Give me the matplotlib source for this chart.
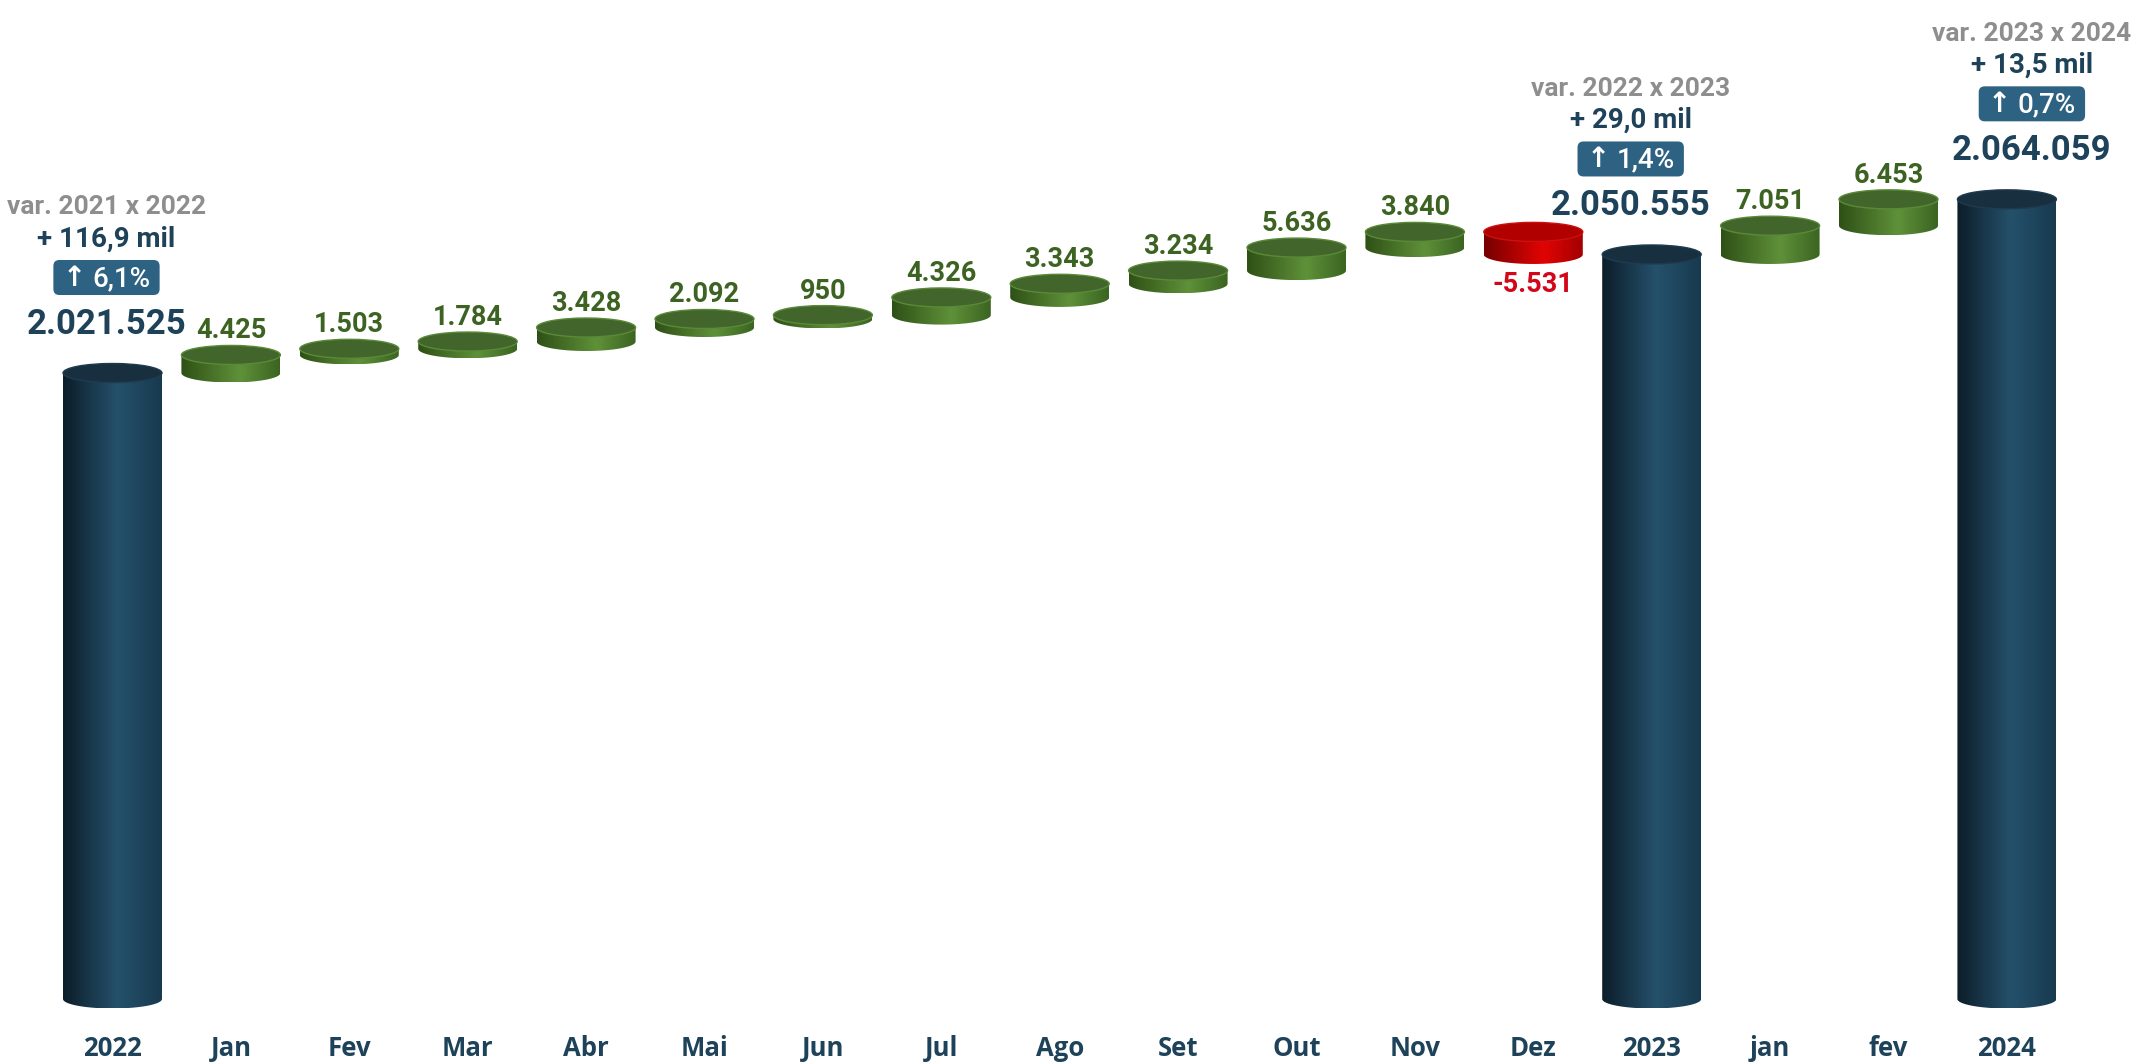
import numpy as np
import matplotlib
matplotlib.use("Agg")
import matplotlib.pyplot as plt
from matplotlib.path import Path
from matplotlib.patches import PathPatch, Ellipse, FancyBboxPatch
from matplotlib.colors import LinearSegmentedColormap
from matplotlib.transforms import IdentityTransform

# ---------------- data ----------------
categories = ["2022", "Jan", "Fev", "Mar", "Abr", "Mai", "Jun", "Jul", "Ago",
              "Set", "Out", "Nov", "Dez", "2023", "jan", "fev", "2024"]
total_labels = ["2022", "2023", "2024"]
total_values = [2021525, 2050555, 2064059]
months_2023 = [4425, 1503, 1784, 3428, 2092, 950, 4326, 3343, 3234, 5636, 3840, -5531]
months_2024 = [7051, 6453]
var_labels = ["var. 2021 x 2022", "var. 2022 x 2023", "var. 2023 x 2024"]
var_abs = ["+ 116,9 mil", "+ 29,0 mil", "+ 13,5 mil"]
var_pct = ["6,1%", "1,4%", "0,7%"]

# ---------------- style / layout ----------------
W, H = 2133, 1062
PX_PER_UNIT = 0.004083          # vertical pixels per unit
REF_VALUE, REF_PX = 2021525, 373.0  # value whose level sits at REF_PX from top
BASE_PX = 999                    # pixel row of bar bottoms
X0_PX, DX_PX = 112.5, 118.4      # first category centre, spacing
BAR_W = 0.836
ELL_PX = 19

def px_to_val(py):
    return REF_VALUE + (REF_PX - py) / PX_PER_UNIT

ylim = (px_to_val(H), px_to_val(0))
xlim = (-X0_PX / DX_PX, (W - X0_PX) / DX_PX)
base_val = px_to_val(BASE_PX)
ell_h = ELL_PX / PX_PER_UNIT
PT = 72 / 100.0  # points per pixel

NAVY = "#1d4259"
GREEN_TXT = "#3d6322"
RED_TXT = "#d2071a"
GRAY = "#8e8e8e"
BOX = "#2d6282"
NUMF = ["Roboto", "DejaVu Sans"]
CATF = ["Open Sans", "DejaVu Sans"]

navy_stops = [(0.0, "#0c1d29"), (0.55, "#25516b"), (1.0, "#173a4f")]
green_stops = [(0.0, "#2e5016"), (0.6, "#5f9139"), (1.0, "#3a6421")]
red_stops = [(0.0, "#760000"), (0.6, "#e20404"), (1.0, "#a30000")]

fig = plt.figure(figsize=(W / 100, H / 100), dpi=100)
ax = fig.add_axes([0, 0, 1, 1])
ax.axis("off")
ax.set_xlim(*xlim)
ax.set_ylim(*ylim)


def gradient(stops):
    cmap = LinearSegmentedColormap.from_list("g", stops)
    return cmap(np.linspace(0, 1, 256))[np.newaxis, :, :]


def cylinder(xc, y_a, y_b, stops, top_color, rim_color, z):
    lo, hi = min(y_a, y_b), max(y_a, y_b)
    w = BAR_W
    t = np.linspace(np.pi, 2 * np.pi, 80)
    xs = xc + w / 2 * np.cos(t)
    ys = lo + ell_h / 2 * np.sin(t)
    verts = list(zip(xs, ys)) + [(xc + w / 2, hi), (xc - w / 2, hi), (xs[0], ys[0])]
    codes = [Path.MOVETO] + [Path.LINETO] * (len(verts) - 2) + [Path.CLOSEPOLY]
    clip = PathPatch(Path(verts, codes), facecolor="none", edgecolor="none",
                     transform=ax.transData)
    ax.add_patch(clip)
    im = ax.imshow(gradient(stops), extent=[xc - w / 2, xc + w / 2, lo - ell_h / 2, hi],
                   aspect="auto", interpolation="bilinear", zorder=z)
    im.set_clip_path(clip)
    ax.add_patch(Ellipse((xc, hi), w, ell_h, facecolor=top_color, edgecolor=rim_color,
                         linewidth=1.0, zorder=z + 0.1))


def fmt(v):
    s = f"{abs(v):,}".replace(",", ".")
    return ("-" if v < 0 else "") + s


# ---------------- draw ----------------
x_of = {c: i for i, c in enumerate(categories)}
block_dx_px = {"2022": -6, "2023": -21, "2024": 25}

# total bars
for lab, val in zip(total_labels, total_values):
    cylinder(x_of[lab], base_val, val, navy_stops, "#182f40", "#1f3b4f", 3)

# monthly steps
steps = [("2022", months_2023, ["Jan", "Fev", "Mar", "Abr", "Mai", "Jun", "Jul", "Ago",
                                "Set", "Out", "Nov", "Dez"]),
         ("2023", months_2024, ["jan", "fev"])]
for start_lab, deltas, labs in steps:
    run = total_values[total_labels.index(start_lab)]
    for lab, d in zip(labs, deltas):
        x = x_of[lab]
        new = run + d
        if d >= 0:
            cylinder(x, run, new, green_stops, "#41652a", "#5a8a38", 3)
            ax.annotate(fmt(d), (x, new), xytext=(0, (ELL_PX / 2 + 7) * PT),
                        textcoords="offset points", ha="center", va="baseline",
                        fontsize=19.5, fontweight="bold", color=GREEN_TXT, family=NUMF)
        else:
            cylinder(x, run, new, red_stops, "#b00000", "#cc1010", 3)
            ax.annotate(fmt(d), (x, new), xytext=(0, -(ELL_PX / 2 + 7) * PT),
                        textcoords="offset points", ha="center", va="top",
                        fontsize=19.5, fontweight="bold", color=RED_TXT, family=NUMF)
        run = new

# annotation blocks above totals
badges = []
B_PX = ELL_PX / 2 + 30
for lab, val, vl, va_, vp in zip(total_labels, total_values, var_labels, var_abs, var_pct):
    x = x_of[lab]
    dx = block_dx_px[lab] * PT
    ax.annotate(fmt(val), (x, val), xytext=(dx, B_PX * PT), textcoords="offset points",
                ha="center", va="baseline", fontsize=25, fontweight="bold",
                color=NAVY, family=NUMF)
    arrow = ax.annotate("\u2191", (x, val), xytext=(dx, (B_PX + 56) * PT),
                        textcoords="offset points", ha="left", va="center", fontsize=20,
                        fontweight="bold", color="white", family=["DejaVu Sans"], zorder=6)
    num = ax.annotate(vp, (x, val), xytext=(dx, (B_PX + 55) * PT),
                      textcoords="offset points", ha="left", va="center", fontsize=20,
                      fontweight="medium", color="white", family=NUMF, zorder=6)
    badges.append((x, val, block_dx_px[lab], arrow, num))
    ax.annotate(va_, (x, val), xytext=(dx, (B_PX + 87) * PT), textcoords="offset points",
                ha="center", va="baseline", fontsize=20, fontweight="bold",
                color=NAVY, family=NUMF)
    ax.annotate(vl, (x, val), xytext=(dx, (B_PX + 119) * PT), textcoords="offset points",
                ha="center", va="baseline", fontsize=19, fontweight="bold",
                color=GRAY, family=NUMF)

# category labels
trans = ax.get_xaxis_transform()
for c, i in x_of.items():
    ax.text(i, 6 / H, c, transform=trans, ha="center", va="baseline",
            fontsize=18.5, fontweight="bold", color=NAVY, family=CATF)

# lay out badges: arrow + number side by side inside a rounded box
fig.canvas.draw()
renderer = fig.canvas.get_renderer()
GAP, PADX, BOX_H = 7, 9, 35
for x, val, dxp, arrow, num in badges:
    wa = arrow.get_window_extent(renderer).width
    wn = num.get_window_extent(renderer).width
    total = wa + GAP + wn
    left = dxp - total / 2
    arrow.set_position((left * PT, (B_PX + 56) * PT))
    num.set_position(((left + wa + GAP) * PT, (B_PX + 55) * PT))
    X, Y = ax.transData.transform((x, val))
    cy = Y + B_PX + 56
    box = FancyBboxPatch((X + left - PADX, cy - BOX_H / 2), total + 2 * PADX, BOX_H,
                         boxstyle="round,pad=0,rounding_size=6", transform=IdentityTransform(),
                         facecolor=BOX, edgecolor="none", zorder=5)
    ax.add_patch(box)

ax.set_xlim(*xlim)
ax.set_ylim(*ylim)
ax.set_aspect("auto")
fig.savefig("out.png", dpi=100, facecolor="white")
